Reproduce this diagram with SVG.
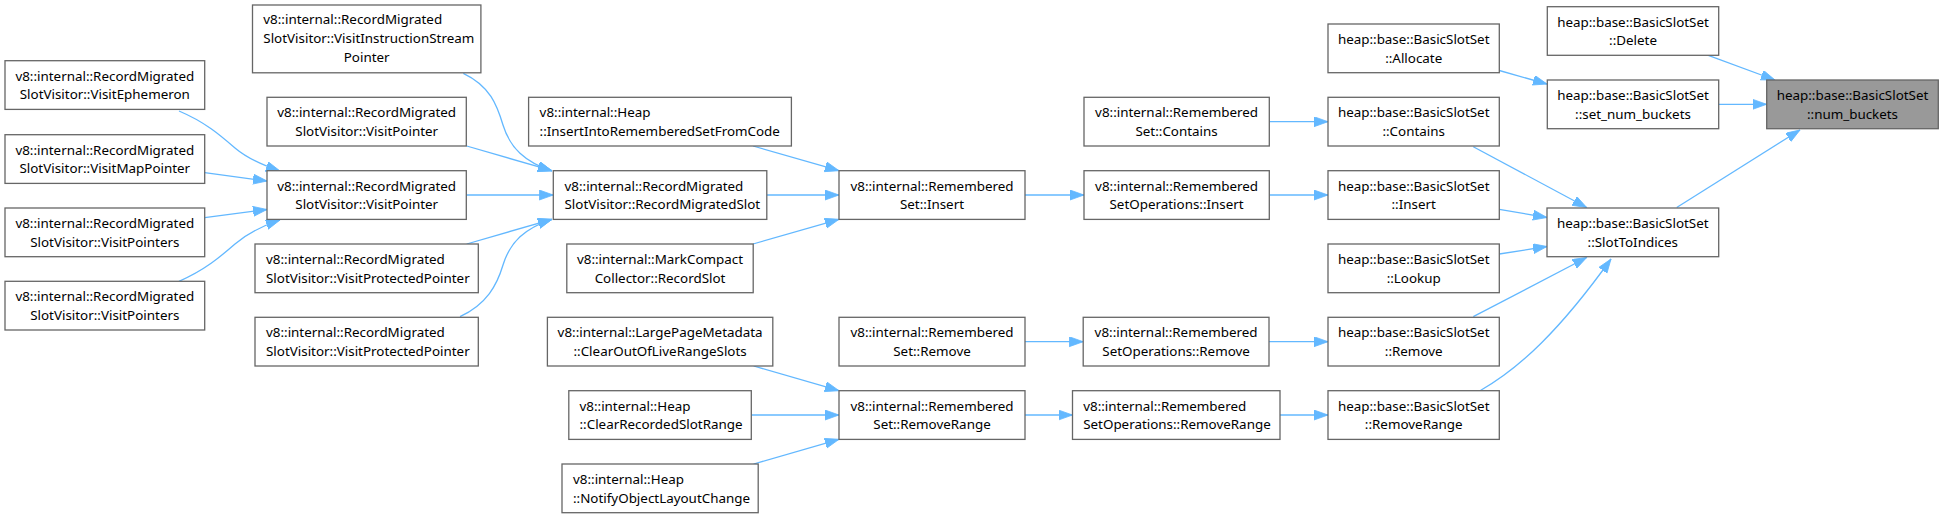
<svg xmlns="http://www.w3.org/2000/svg" width="1943" height="518" viewBox="0 0 1943 518">
<style>
.n rect{fill:#ffffff;stroke:#666666;stroke-width:1.3}
.n.root rect{fill:#999999}
.n text{font-family:"Noto Sans","DejaVu Sans",sans-serif;font-size:13.4px;fill:#000000}
.c{text-anchor:middle}
.e path{fill:none;stroke:#63b8ff;stroke-width:1.3}
</style>
<defs>
<marker id="ah" markerUnits="userSpaceOnUse" markerWidth="15" markerHeight="11" refX="14" refY="5" orient="auto">
<path d="M0,0 L14,5 L0,10 z" fill="#63b8ff" stroke="#63b8ff" stroke-width="0.8"/>
</marker>
</defs>
<rect width="1943" height="518" fill="#ffffff"/>
<g id="edges" class="e">
<path marker-end="url(#ah)" d="M1708.3,55.3 L1775,80"/>
<path marker-end="url(#ah)" d="M1718.7,104.3 L1766.7,104.3"/>
<path marker-end="url(#ah)" d="M1676.7,207.5 L1800,130"/>
<path marker-end="url(#ah)" d="M1499.3,70.5 L1547,84"/>
<path marker-end="url(#ah)" d="M1473.3,146.7 L1586.7,207.5"/>
<path marker-end="url(#ah)" d="M1499.3,209.3 L1547,217.5"/>
<path marker-end="url(#ah)" d="M1499.3,254 L1547,246.5"/>
<path marker-end="url(#ah)" d="M1473.3,316.7 L1586.7,257.5"/>
<path marker-end="url(#ah)" d="M1480,390.7 C1520,368 1560,330 1611,259"/>
<path marker-end="url(#ah)" d="M1269.3,121.7 L1328,121.7"/>
<path marker-end="url(#ah)" d="M1269.3,195 L1328,195"/>
<path marker-end="url(#ah)" d="M1025,195 L1084,195"/>
<path marker-end="url(#ah)" d="M1269,341.7 L1328,341.7"/>
<path marker-end="url(#ah)" d="M1025,341.7 L1083.2,341.7"/>
<path marker-end="url(#ah)" d="M1280,415 L1328,415"/>
<path marker-end="url(#ah)" d="M1025,415 L1072.5,415"/>
<path marker-end="url(#ah)" d="M753,146 L839,170.7"/>
<path marker-end="url(#ah)" d="M766.8,195 L839,195"/>
<path marker-end="url(#ah)" d="M753,244 L839,219.3"/>
<path marker-end="url(#ah)" d="M753.6,366 L839,390.7"/>
<path marker-end="url(#ah)" d="M751.3,415 L839,415"/>
<path marker-end="url(#ah)" d="M753.6,464 L839,439.3"/>
<path marker-end="url(#ah)" d="M463.3,73.3 C490,86 497,105 503,125 C510,148 525,162 552,171"/>
<path marker-end="url(#ah)" d="M466.7,146 L552,170.7"/>
<path marker-end="url(#ah)" d="M466.3,195 L553.3,195"/>
<path marker-end="url(#ah)" d="M466.7,244 L552,219.3"/>
<path marker-end="url(#ah)" d="M460,316.7 C487,304 497,285 503,265 C510,242 525,228 552,219.3"/>
<path marker-end="url(#ah)" d="M179,111 C205,122 220,135 235,148 C248,159 262,165 280,171"/>
<path marker-end="url(#ah)" d="M204.7,172.7 L267,181"/>
<path marker-end="url(#ah)" d="M204.7,217.7 L267,209.5"/>
<path marker-end="url(#ah)" d="M179,281.3 C205,270 220,257 235,244 C248,233 262,226 280,220"/>
</g>
<g id="n_num_buckets" class="n root"><rect x="1766.7" y="80" width="171.6" height="48.7"/><text class="c" x="1852.5" y="99.8">heap::base::BasicSlotSet</text><text class="c" x="1852.5" y="118.5">::num_buckets</text></g>
<g id="n_delete" class="n"><rect x="1547.3" y="6.7" width="171.4" height="48.6"/><text class="c" x="1633" y="26.5">heap::base::BasicSlotSet</text><text class="c" x="1633" y="45.2">::Delete</text></g>
<g id="n_set_num_buckets" class="n"><rect x="1547.3" y="80" width="171.4" height="48.7"/><text class="c" x="1633" y="99.8">heap::base::BasicSlotSet</text><text class="c" x="1633" y="118.5">::set_num_buckets</text></g>
<g id="n_slottoindices" class="n"><rect x="1547" y="208" width="171.7" height="48.7"/><text class="c" x="1632.8" y="227.8">heap::base::BasicSlotSet</text><text class="c" x="1632.8" y="246.5">::SlotToIndices</text></g>
<g id="n_allocate" class="n"><rect x="1328" y="24" width="171.3" height="48.7"/><text class="c" x="1413.7" y="43.8">heap::base::BasicSlotSet</text><text class="c" x="1413.7" y="62.5">::Allocate</text></g>
<g id="n_bss_contains" class="n"><rect x="1328" y="97.3" width="171.3" height="48.7"/><text class="c" x="1413.7" y="117.1">heap::base::BasicSlotSet</text><text class="c" x="1413.7" y="135.8">::Contains</text></g>
<g id="n_bss_insert" class="n"><rect x="1328" y="170.7" width="171.3" height="48.7"/><text class="c" x="1413.7" y="190.5">heap::base::BasicSlotSet</text><text class="c" x="1413.7" y="209.2">::Insert</text></g>
<g id="n_bss_lookup" class="n"><rect x="1328" y="244" width="171.3" height="48.7"/><text class="c" x="1413.7" y="263.8">heap::base::BasicSlotSet</text><text class="c" x="1413.7" y="282.5">::Lookup</text></g>
<g id="n_bss_remove" class="n"><rect x="1328" y="317.3" width="171.3" height="48.7"/><text class="c" x="1413.7" y="337.1">heap::base::BasicSlotSet</text><text class="c" x="1413.7" y="355.8">::Remove</text></g>
<g id="n_bss_removerange" class="n"><rect x="1328" y="390.7" width="171.3" height="48.7"/><text class="c" x="1413.7" y="410.5">heap::base::BasicSlotSet</text><text class="c" x="1413.7" y="429.2">::RemoveRange</text></g>
<g id="n_rs_contains" class="n"><rect x="1084" y="97.3" width="185.3" height="48.7"/><text class="c" x="1176.6" y="117.1">v8::internal::Remembered</text><text class="c" x="1176.6" y="135.8">Set::Contains</text></g>
<g id="n_rso_insert" class="n"><rect x="1084" y="170.7" width="185.3" height="48.7"/><text class="c" x="1176.6" y="190.5">v8::internal::Remembered</text><text class="c" x="1176.6" y="209.2">SetOperations::Insert</text></g>
<g id="n_rso_remove" class="n"><rect x="1083.2" y="317.3" width="185.8" height="48.7"/><text class="c" x="1176.1" y="337.1">v8::internal::Remembered</text><text class="c" x="1176.1" y="355.8">SetOperations::Remove</text></g>
<g id="n_rso_removerange" class="n"><rect x="1072.5" y="390.7" width="207.5" height="48.7"/><text x="1083.2" y="410.5">v8::internal::Remembered</text><text x="1083.2" y="429.2">SetOperations::RemoveRange</text></g>
<g id="n_rs_insert" class="n"><rect x="839" y="170.7" width="186" height="48.7"/><text class="c" x="932" y="190.5">v8::internal::Remembered</text><text class="c" x="932" y="209.2">Set::Insert</text></g>
<g id="n_rs_remove" class="n"><rect x="839" y="317.3" width="186" height="48.7"/><text class="c" x="932" y="337.1">v8::internal::Remembered</text><text class="c" x="932" y="355.8">Set::Remove</text></g>
<g id="n_rs_removerange" class="n"><rect x="839" y="390.7" width="186" height="48.7"/><text class="c" x="932" y="410.5">v8::internal::Remembered</text><text class="c" x="932" y="429.2">Set::RemoveRange</text></g>
<g id="n_insertfromcode" class="n"><rect x="528.6" y="97.3" width="262.8" height="48.7"/><text x="539.6" y="117.1">v8::internal::Heap</text><text x="539.6" y="135.8">::InsertIntoRememberedSetFromCode</text></g>
<g id="n_recordmigratedslot" class="n"><rect x="553.3" y="170.7" width="213.5" height="48.7"/><text x="564.5" y="190.5">v8::internal::RecordMigrated</text><text x="564.5" y="209.2">SlotVisitor::RecordMigratedSlot</text></g>
<g id="n_recordslot" class="n"><rect x="566.8" y="244" width="186.4" height="48.7"/><text class="c" x="660" y="263.8">v8::internal::MarkCompact</text><text class="c" x="660" y="282.5">Collector::RecordSlot</text></g>
<g id="n_clearoutoflive" class="n"><rect x="547.4" y="317.3" width="225.4" height="48.7"/><text class="c" x="660.1" y="337.1">v8::internal::LargePageMetadata</text><text class="c" x="660.1" y="355.8">::ClearOutOfLiveRangeSlots</text></g>
<g id="n_clearrecorded" class="n"><rect x="568.8" y="390.7" width="182.5" height="48.7"/><text x="579.5" y="410.5">v8::internal::Heap</text><text x="579.5" y="429.2">::ClearRecordedSlotRange</text></g>
<g id="n_notifylayout" class="n"><rect x="562" y="464" width="196.2" height="48.7"/><text x="573" y="483.8">v8::internal::Heap</text><text x="573" y="502.5">::NotifyObjectLayoutChange</text></g>
<g id="n_visitisp" class="n"><rect x="252.5" y="5" width="228.4" height="67.8"/><text x="263.3" y="24.3">v8::internal::RecordMigrated</text><text x="263.3" y="42.9">SlotVisitor::VisitInstructionStream</text><text class="c" x="366.7" y="61.5">Pointer</text></g>
<g id="n_visitpointer_a" class="n"><rect x="267" y="97.3" width="199.3" height="48.7"/><text class="c" x="366.7" y="117.1">v8::internal::RecordMigrated</text><text class="c" x="366.7" y="135.8">SlotVisitor::VisitPointer</text></g>
<g id="n_visitpointer_b" class="n"><rect x="267" y="170.7" width="199.3" height="48.7"/><text class="c" x="366.7" y="190.5">v8::internal::RecordMigrated</text><text class="c" x="366.7" y="209.2">SlotVisitor::VisitPointer</text></g>
<g id="n_visitprotected_a" class="n"><rect x="255" y="244" width="223.3" height="48.7"/><text x="266" y="263.8">v8::internal::RecordMigrated</text><text x="266" y="282.5">SlotVisitor::VisitProtectedPointer</text></g>
<g id="n_visitprotected_b" class="n"><rect x="255" y="317.3" width="223.3" height="48.7"/><text x="266" y="337.1">v8::internal::RecordMigrated</text><text x="266" y="355.8">SlotVisitor::VisitProtectedPointer</text></g>
<g id="n_visitephemeron" class="n"><rect x="5" y="60.7" width="199.7" height="48.7"/><text class="c" x="104.8" y="80.5">v8::internal::RecordMigrated</text><text class="c" x="104.8" y="99.2">SlotVisitor::VisitEphemeron</text></g>
<g id="n_visitmappointer" class="n"><rect x="5" y="134.7" width="199.7" height="48.7"/><text class="c" x="104.8" y="154.5">v8::internal::RecordMigrated</text><text class="c" x="104.8" y="173.2">SlotVisitor::VisitMapPointer</text></g>
<g id="n_visitpointers_a" class="n"><rect x="5" y="208" width="199.7" height="48.7"/><text class="c" x="104.8" y="227.8">v8::internal::RecordMigrated</text><text class="c" x="104.8" y="246.5">SlotVisitor::VisitPointers</text></g>
<g id="n_visitpointers_b" class="n"><rect x="5" y="281.3" width="199.7" height="48.7"/><text class="c" x="104.8" y="301.1">v8::internal::RecordMigrated</text><text class="c" x="104.8" y="319.8">SlotVisitor::VisitPointers</text></g>
</svg>
